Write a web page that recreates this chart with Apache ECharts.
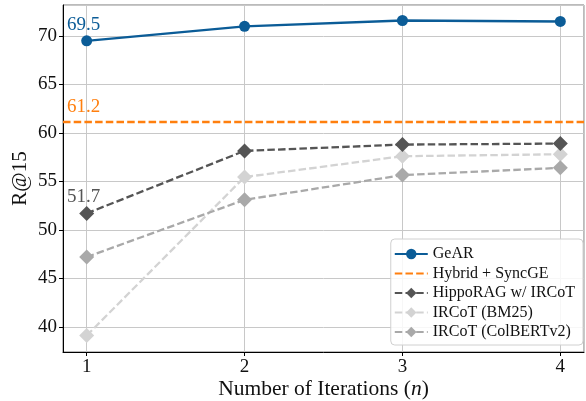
<!DOCTYPE html>
<html>
<head>
<meta charset="utf-8">
<script src="https://cdn.jsdelivr.net/npm/echarts@6/dist/echarts.min.js"></script>
<style>
  html, body { margin: 0; padding: 0; background: #fff; }
  #main { width: 586px; height: 401px; }
</style>
</head>
<body>
<div id="main"></div>
<script>
const iterations = [1, 2, 3, 4];
const gear = [69.5, 71.0, 71.6, 71.5];
const hybridSyncGE = 61.2;
const hippoRAG = [51.7, 58.15, 58.8, 58.9];
const ircotBM25 = [39.1, 55.45, 57.6, 57.8];
const ircotColBERT = [47.2, 53.1, 55.65, 56.4];

const font = 'Liberation Serif, Times New Roman, serif';
const dash = [7.5, 3.2];

function pairs(vals) {
    return iterations.map((x, i) => [x, vals[i]]);
}

let chart = echarts.init(document.getElementById('main'));
let option = {
    backgroundColor: '#fff',
    animation: false,
    textStyle: { fontFamily: font },
    grid: {
        left: 63, right: 2, top: 5, bottom: 49,
        outerBoundsMode: 'none', containLabel: false,
        show: true, borderColor: '#777', borderWidth: 1
    },
    legend: {
        right: 3, bottom: 56,
        orient: 'vertical',
        itemWidth: 33, itemHeight: 13, itemGap: 3.5,
        padding: [7, 8, 5, 3],
        backgroundColor: 'rgba(255,255,255,0.85)',
        borderColor: '#d0d0d0', borderWidth: 1, borderRadius: 4,
        textStyle: { fontFamily: font, fontSize: 16, color: '#111' },
        data: [
            'GeAR',
            { name: 'Hybrid + SyncGE', itemStyle: { opacity: 0 } },
            'HippoRAG w/ IRCoT', 'IRCoT (BM25)', 'IRCoT (ColBERTv2)'
        ]
    },
    xAxis: {
        type: 'value',
        min: 0.85, max: 4.15, splitNumber: 3,
        name: '{n|Number of Iterations (}{i|n}{n|)}',
        nameLocation: 'middle', nameGap: 26, nameMoveOverlap: false,
        nameTextStyle: {
            fontFamily: font, fontSize: 21.5, color: '#111',
            rich: {
                n: { fontFamily: font, fontSize: 21.5, color: '#111' },
                i: { fontStyle: 'italic', fontFamily: font, fontSize: 21.5, color: '#111' }
            }
        },
        axisLine: { lineStyle: { color: '#000', width: 1 } },
        axisTick: { show: true, length: 4, lineStyle: { color: '#000' } },
        axisLabel: {
            fontFamily: font, fontSize: 19, color: '#111', margin: 6,
            showMinLabel: false, showMaxLabel: false
        },
        splitLine: { show: true, lineStyle: { color: '#c8c8c8', width: 1 } }
    },
    yAxis: {
        type: 'value',
        min: 37.4, max: 73.2, splitNumber: 7,
        name: 'R@15',
        nameLocation: 'middle', nameGap: 32, nameMoveOverlap: false,
        nameTextStyle: { fontFamily: font, fontSize: 21, color: '#111' },
        axisLine: { show: true, lineStyle: { color: '#000', width: 1 } },
        axisTick: { show: true, length: 4, lineStyle: { color: '#000' } },
        axisLabel: {
            fontFamily: font, fontSize: 19, color: '#111', margin: 6,
            showMinLabel: false, showMaxLabel: false
        },
        splitLine: { show: true, lineStyle: { color: '#c8c8c8', width: 1 } }
    },
    series: [
        {
            name: 'GeAR', type: 'line',
            data: pairs(gear),
            color: '#0b5c97',
            symbol: 'circle', symbolSize: 11,
            lineStyle: { width: 2.3, color: '#0b5c97' },
            itemStyle: { color: '#0b5c97' },
            label: {
                show: true, position: 'top', distance: 1, offset: [-3, 0],
                fontFamily: font, fontSize: 19, color: '#0b5c97',
                formatter: p => p.dataIndex === 0 ? p.value[1].toFixed(1) : ''
            },
            z: 5
        },
        {
            name: 'Hybrid + SyncGE', type: 'line',
            data: [],
            color: '#ff7f0e',
            symbol: 'none',
            lineStyle: { width: 2.3, type: dash, color: '#ff7f0e' },
            markLine: {
                silent: true, symbol: 'none', animation: false,
                lineStyle: { width: 2.3, type: dash, color: '#ff7f0e' },
                label: {
                    show: true, position: 'insideStartTop', distance: [4, 5],
                    fontFamily: font, fontSize: 19, color: '#ff7f0e',
                    formatter: () => hybridSyncGE.toFixed(1)
                },
                data: [{ yAxis: hybridSyncGE }]
            },
            z: 4
        },
        {
            name: 'HippoRAG w/ IRCoT', type: 'line',
            data: pairs(hippoRAG),
            color: '#555555',
            symbol: 'diamond', symbolSize: 15,
            lineStyle: { width: 2.3, type: dash, color: '#555555' },
            itemStyle: { color: '#555555' },
            label: {
                show: true, position: 'top', distance: -1, offset: [-3, 0],
                fontFamily: font, fontSize: 19, color: '#555555',
                formatter: p => p.dataIndex === 0 ? p.value[1].toFixed(1) : ''
            },
            z: 4
        },
        {
            name: 'IRCoT (BM25)', type: 'line',
            data: pairs(ircotBM25),
            color: '#d3d3d3',
            symbol: 'diamond', symbolSize: 15,
            lineStyle: { width: 2.3, type: dash, color: '#d3d3d3' },
            itemStyle: { color: '#d3d3d3' },
            z: 3
        },
        {
            name: 'IRCoT (ColBERTv2)', type: 'line',
            data: pairs(ircotColBERT),
            color: '#a9a9a9',
            symbol: 'diamond', symbolSize: 15,
            lineStyle: { width: 2.3, type: dash, color: '#a9a9a9' },
            itemStyle: { color: '#a9a9a9' },
            z: 3
        }
    ]
};
chart.setOption(option);
</script>
</body>
</html>
